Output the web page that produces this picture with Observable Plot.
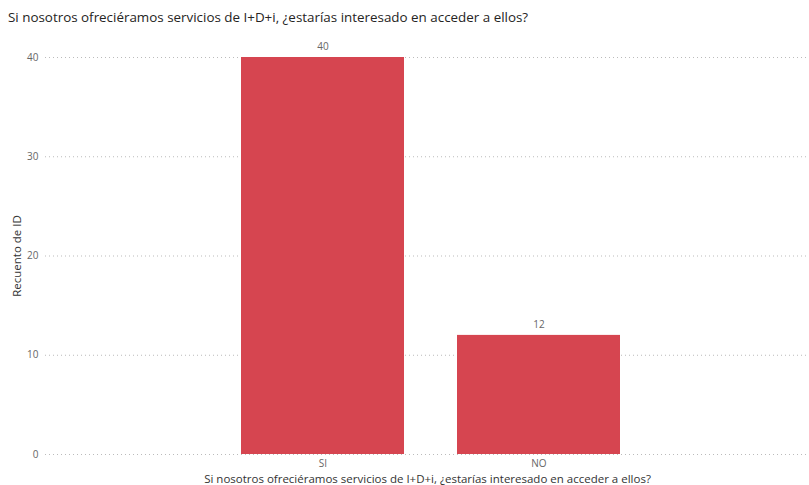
<!DOCTYPE html>
<html>
<head>
<meta charset="utf-8">
<script src="https://cdn.jsdelivr.net/npm/d3@7"></script>
<script src="https://cdn.jsdelivr.net/npm/@observablehq/plot@0.6"></script>
<style>
  body { margin: 0; background: #fff; font-family: "Open Sans", sans-serif; }
  #title { height: 32px; line-height: 34px; padding-left: 8px; font-size: 13.4px; color: #252423; white-space: nowrap; }
</style>
</head>
<body>
<div id="title">Si nosotros ofreciéramos servicios de I+D+i, ¿estarías interesado en acceder a ellos?</div>
<div id="chart"></div>
<script>
const categories = ["SI", "NO"];
const counts = [40, 12];
const yTicks = [0, 10, 20, 30, 40];
const xTitle = "Si nosotros ofreciéramos servicios de I+D+i, ¿estarías interesado en acceder a ellos?";
const yTitle = "Recuento de ID";

const data = categories.map((c, i) => ({cat: c, value: counts[i]}));

const chart = Plot.plot({
  width: 809,
  height: 453,
  marginLeft: 45,
  marginRight: 0,
  marginTop: 25,
  marginBottom: 31,
  style: { fontFamily: "Open Sans, sans-serif", fontSize: "10px", color: "#666" },
  x: { domain: categories, paddingInner: 0.245, paddingOuter: 0.891, align: 0.508, label: null },
  y: { domain: [0, 40], label: null },
  marks: [
    Plot.gridY(yTicks, { stroke: "#bbb", strokeOpacity: 1, strokeDasharray: "1,3" }),
    Plot.barY(data, { x: "cat", y: "value", fill: "#D64550" }),
    Plot.text(data, { x: "cat", y: "value", text: d => String(d.value), dy: -11, fill: "#666", fontSize: 10 }),
    Plot.axisY(yTicks, { tickSize: 0, tickPadding: 7, fill: "#666", fontSize: 10, label: yTitle, labelAnchor: "center", labelArrow: "none", labelOffset: 33 }),
    Plot.axisX({ tickSize: 0, tickPadding: 5, fill: "#666", fontSize: 10, label: null }),
    Plot.text([xTitle], { frameAnchor: "bottom", dy: 28, fill: "#333", fontSize: 11.5, text: d => d, x: null })
  ]
});
document.getElementById("chart").appendChild(chart);
chart.querySelectorAll("text").forEach(t => {
  if (t.textContent === yTitle) { t.setAttribute("fill", "#333"); t.style.fontSize = "11.5px"; }
});
</script>
</body>
</html>
